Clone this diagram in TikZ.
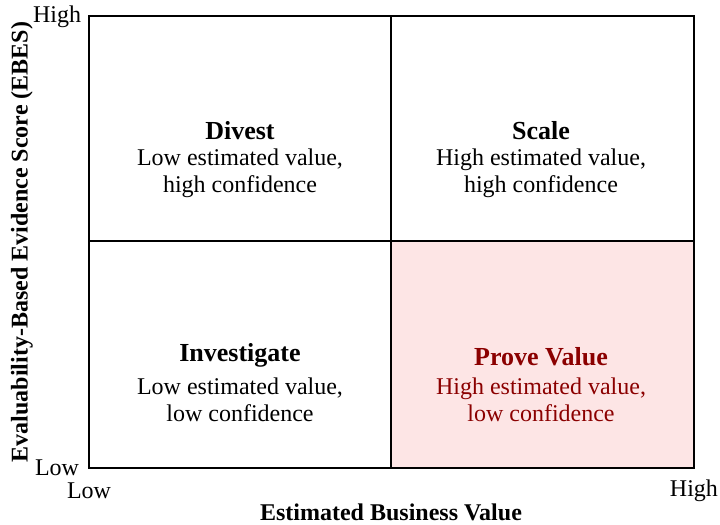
\documentclass[tikz,border=0pt]{standalone}
\usepackage{fontspec}
\setmainfont{Liberation Serif}
\usepackage{tikz}
\definecolor{darkred}{RGB}{139, 0, 0}
\definecolor{lightred}{RGB}{253, 229, 229}
\def\xl{89}
\def\xm{391}
\def\xr{694}
\def\yt{16}
\def\ym{241}
\def\yb{468}

\begin{document}
\begin{tikzpicture}[x=0.5pt, y=-0.5pt, line width=1.25pt,
    title/.style={font=\fontsize{13}{15}\selectfont\bfseries},
    body/.style={font=\fontsize{12}{13.5}\selectfont, align=center},
    tick/.style={font=\fontsize{12}{14}\selectfont}]

                 \useasboundingbox (0, 0) rectangle (720, 525);

                 \path[fill=lightred] (\xm, \ym) rectangle (\xr, \yb);

                 \draw (\xl, \yt) rectangle (\xr, \yb);
                 \draw (\xm, \yt) -- (\xm, \yb);
                 \draw (\xl, \ym) -- (\xr, \ym);

                 \node[title] (divest) at (240, 131) {Divest};
                 \node[body] (divestText) at (240, 173) {Low estimated value,\\high confidence};

                 \node[title] (scale) at (541, 131) {Scale};
                 \node[body] (scaleText) at (541, 173) {High estimated value,\\high confidence};

                 \node[title] (investigate) at (240, 355) {Investigate};
                 \node[body] (investigateText) at (240, 400) {Low estimated value,\\low confidence};

                 \node[title, darkred] (prove) at (541, 357) {Prove Value};
                 \node[body, darkred] (proveText) at (541, 400) {High estimated value,\\low confidence};

                 \node[tick] (yhigh) at (57, 17) {High};
                 \node[tick] (ylow) at (57, 468) {Low};
                 \node[tick] (xlow) at (89, 491) {Low};
                 \node[tick] (xhigh) at (694, 491) {High};

                 \node[tick, font=\fontsize{12}{14}\selectfont\bfseries] (xlabel) at (391, 512) {Estimated Business Value};
                 \node[tick, font=\fontsize{12}{14}\selectfont\bfseries, rotate=90] (ylabel) at (22, 242) {Evaluability-Based Evidence Score (EBES)};

             \end{tikzpicture}
\end{document}
